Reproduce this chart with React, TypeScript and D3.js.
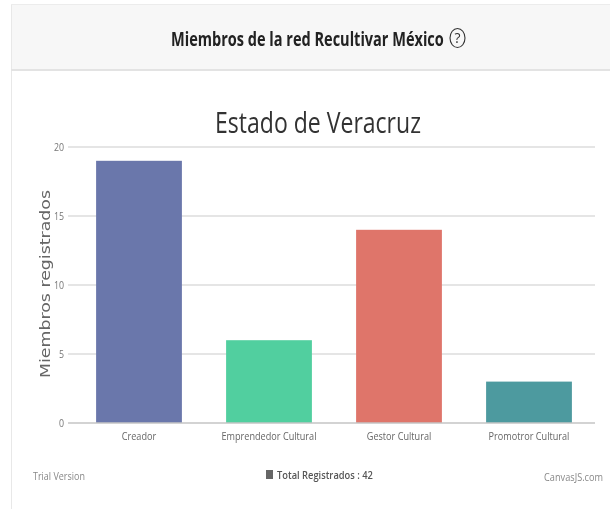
import React, { useEffect, useRef } from "react";
import * as d3 from "d3";

const categories = ["Creador", "Emprendedor Cultural", "Gestor Cultural", "Promotror Cultural"];
const members = [19, 6, 14, 3];
const barColors = ["#6b77ab", "#51cf9f", "#df756b", "#4e9a9f"];
const yTicks = [0, 5, 10, 15, 20];

const App = () => {
    const chartRef = useRef<SVGSVGElement | null>(null);

    useEffect(() => {
        const width = 610;
        const height = 509;
        const margin = { top: 147, right: 15, bottom: 86, left: 68 };

        const root = d3.select(chartRef.current);
        root.selectAll("*").remove();

        // the source picture is a soft, stretched screenshot
        root.append("defs").append("filter")
            .attr("id", "soft")
            .append("feGaussianBlur")
            .attr("stdDeviation", 0.45);

        const svg = root.append("g").attr("filter", "url(#soft)");

        svg.append("rect").attr("width", width).attr("height", height).attr("fill", "#fff");

        // squeezes a text to the width it has in the picture
        const label = (txt: string, x: number, y: number, size: number, target: number, anchor: string, fill: string, weight = 400) => {
            const t = svg.append("text")
                .attr("text-anchor", anchor)
                .attr("font-family", "Open Sans")
                .attr("font-size", size)
                .attr("font-weight", weight)
                .attr("fill", fill)
                .text(txt);
            const w = (t.node() as SVGTextElement).getComputedTextLength();
            t.attr("transform", `translate(${x},${y}) scale(${target / w},1)`);
            return t;
        };

        // card and its header
        svg.append("rect").attr("x", 11).attr("y", 4).attr("width", 599).attr("height", 66).attr("fill", "#f7f7f7");
        svg.append("path").attr("d", "M11.5,4V509").attr("stroke", "#e8e8e8").attr("fill", "none");
        svg.append("path").attr("d", "M11,4.5H610").attr("stroke", "#ececec").attr("fill", "none");
        svg.append("path").attr("d", "M11,70H610").attr("stroke", "#e3e3e3").attr("stroke-width", 2).attr("fill", "none");

        label("Miembros de la red Recultivar México", 171, 46, 19, 273, "start", "#222", 700);

        svg.append("ellipse").attr("cx", 457.5).attr("cy", 38).attr("rx", 7.5).attr("ry", 9.5)
            .attr("fill", "none").attr("stroke", "#333").attr("stroke-width", 1.1);
        label("?", 457.5, 43, 14, 6, "middle", "#333");

        label("Estado de Veracruz", 318, 133, 29, 206, "middle", "#333");

        const x = d3.scaleBand()
            .domain(categories)
            .range([74, 594])
            .paddingInner(0.34)
            .paddingOuter(0.17);

        const y = d3.scaleLinear()
            .domain([0, 20])
            .range([height - margin.bottom, margin.top]);

        // grid
        svg.append("g")
            .selectAll("line")
            .data(yTicks.filter(d => d > 0))
            .enter()
            .append("line")
            .attr("x1", margin.left)
            .attr("x2", width - margin.right)
            .attr("y1", d => y(d))
            .attr("y2", d => y(d))
            .attr("stroke", "#dcdcdc")
            .attr("stroke-width", 1.5);

        svg.append("g")
            .selectAll("rect")
            .data(members)
            .enter()
            .append("rect")
            .attr("x", (d, i) => x(categories[i]) as number)
            .attr("y", d => y(d))
            .attr("width", x.bandwidth())
            .attr("height", d => y(0) - y(d))
            .attr("fill", (d, i) => barColors[i]);

        const yAxis = svg.append("g")
            .attr("transform", `translate(${margin.left},0)`)
            .call(d3.axisLeft(y).tickValues(yTicks).tickSize(0).tickPadding(5));
        yAxis.select(".domain").remove();
        yAxis.selectAll("text")
            .attr("font-family", "Open Sans")
            .attr("font-size", 11)
            .attr("transform", "scale(0.8,1)")
            .attr("fill", "#777");

        const xAxis = svg.append("g")
            .attr("transform", `translate(0,${y(0)})`)
            .call(d3.axisBottom(x).tickSize(0).tickPadding(9));
        xAxis.select(".domain").remove();
        xAxis.selectAll("text")
            .attr("font-family", "Open Sans")
            .attr("font-size", 11)
            .attr("transform", "scale(0.83,1)")
            .attr("fill", "#666");

        svg.append("line")
            .attr("x1", margin.left)
            .attr("x2", width - margin.right)
            .attr("y1", y(0))
            .attr("y2", y(0))
            .attr("stroke", "#c4c4c4")
            .attr("stroke-width", 1.5);

        const yTitle = svg.append("text")
            .attr("text-anchor", "middle")
            .attr("font-family", "DejaVu Sans")
            .attr("font-size", 14)
            .attr("fill", "#666")
            .text("Miembros registrados");
        const titleLen = (yTitle.node() as SVGTextElement).getComputedTextLength();
        yTitle.attr("transform", `translate(50,284) rotate(-90) scale(${188 / titleLen},1)`);

        // footer
        label("Trial Version", 33, 480, 11, 52, "start", "#888");
        label("CanvasJS.com", 603, 481, 11, 59, "end", "#888");
        svg.append("rect").attr("x", 266).attr("y", 470).attr("width", 7).attr("height", 9).attr("fill", "#666");
        label("Total Registrados : 42", 277, 479, 11, 96, "start", "#555", 600);
    }, []);

    return <svg ref={chartRef} width={610} height={509} style={{ position: "absolute", left: 0, top: 0 }} />;
};

export default App;
